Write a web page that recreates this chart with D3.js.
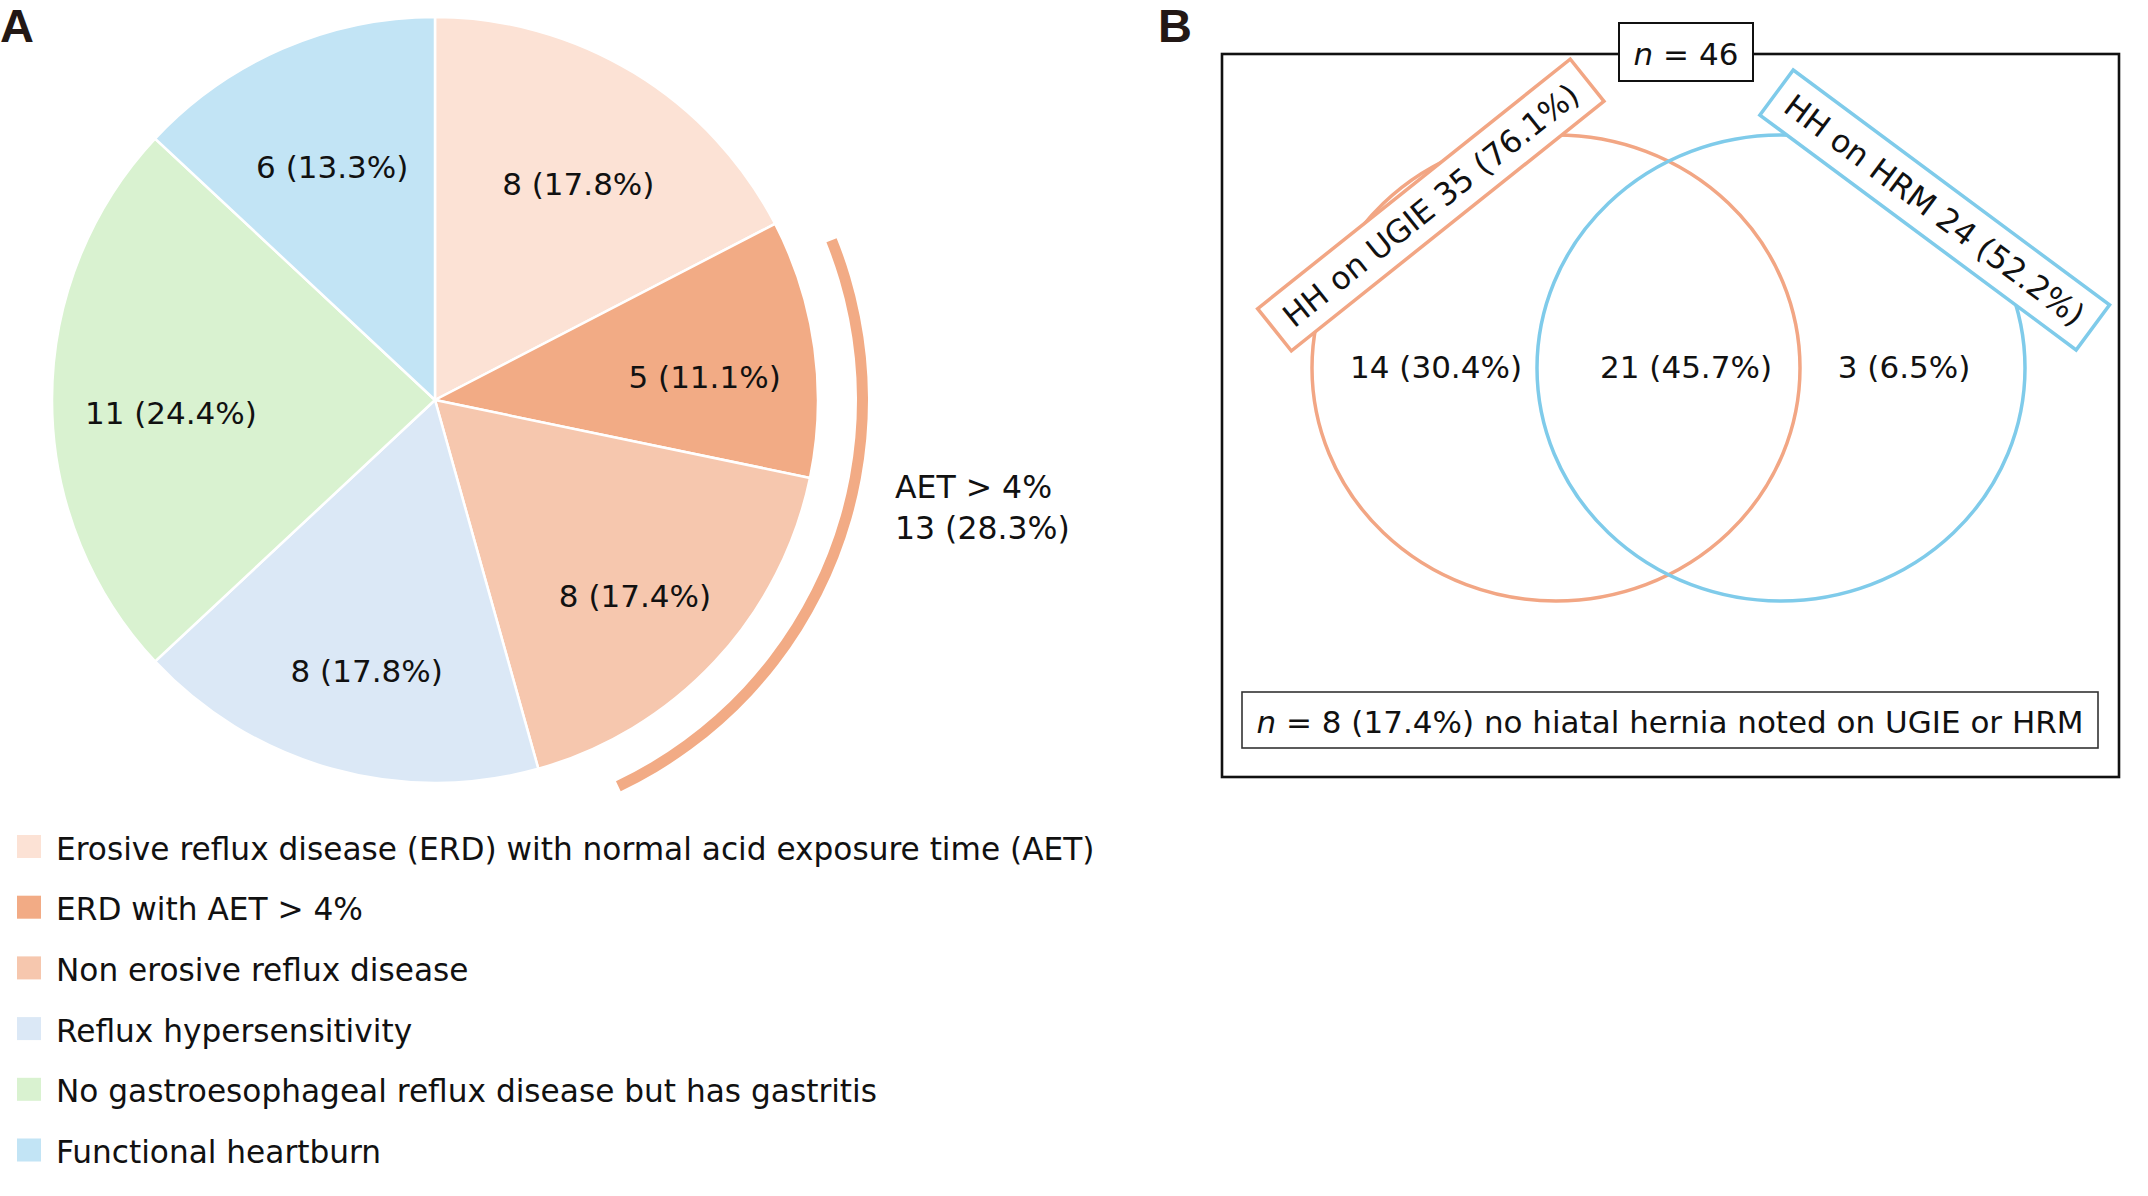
<!DOCTYPE html>
<html>
<head>
<meta charset="utf-8">
<style>
  body { margin: 0; background: #fff; }
  text { font-family: "DejaVu Sans", Verdana, sans-serif; fill: #111; }
  .panel { font-family: "Liberation Sans", Arial, sans-serif; font-weight: bold; fill: #231815; }
</style>
</head>
<body>
<svg id="chart" width="2148" height="1196"></svg>
<script src="https://cdn.jsdelivr.net/npm/d3@7"></script>
<script>
// Panel A data
const pieCategories = [
  "Erosive reflux disease (ERD) with normal acid exposure time (AET)",
  "ERD with AET > 4%",
  "Non erosive reflux disease",
  "Reflux hypersensitivity",
  "No gastroesophageal reflux disease but has gastritis",
  "Functional heartburn"
];
const pieCounts = [8, 5, 8, 8, 11, 6];
const pieLabels = ["8 (17.8%)", "5 (11.1%)", "8 (17.4%)", "8 (17.8%)", "11 (24.4%)", "6 (13.3%)"];
const pieColors = ["#fce2d5", "#f2ab85", "#f6c7ae", "#dbe8f6", "#d9f2d0", "#c2e4f5"];
const aetLines = ["AET > 4%", "13 (28.3%)"];

// Panel B data
const vennSets = ["HH on UGIE 35 (76.1%)", "HH on HRM 24 (52.2%)"];
const vennColors = ["#f2a684", "#7fcbea"];
const vennRegionLabels = ["14 (30.4%)", "21 (45.7%)", "3 (6.5%)"];
const vennTotal = "46";
const vennNone = "8 (17.4%) no hiatal hernia noted on UGIE or HRM";

const svg = d3.select("#chart");

// ---------- panel A: pie ----------
const cx = 435, cy = 400, R = 383;
const gA = svg.append("g").attr("transform", `translate(${cx},${cy})`);

const pie = d3.pie().sort(null).value(d => d);
const arcs = pie(pieCounts);
const arc = d3.arc().innerRadius(0).outerRadius(R);
const labelArc = d3.arc().innerRadius(R * 0.7).outerRadius(R * 0.7);

gA.selectAll("path.slice")
  .data(arcs)
  .enter()
  .append("path")
    .attr("class", "slice")
    .attr("d", arc)
    .attr("fill", (d, i) => pieColors[i])
    .attr("stroke", "#fff")
    .attr("stroke-width", 2.5);

// labels sit a little below the centroid, as in the original
gA.selectAll("text.lbl")
  .data(arcs)
  .enter()
  .append("text")
    .attr("class", "lbl")
    .attr("transform", d => {
      const c = labelArc.centroid(d);
      return `translate(${c[0] + 4},${c[1] + 13})`;
    })
    .attr("text-anchor", "middle")
    .attr("dy", "0.36em")
    .style("font-size", "31px")
    .text((d, i) => pieLabels[i]);

// bracket over the AET > 4% slices (2nd and 3rd)
const bracket = d3.arc()
  .innerRadius(422).outerRadius(433)
  .startAngle(arcs[1].startAngle + 0.095)
  .endAngle(arcs[2].endAngle - 0.17);
gA.append("path").attr("d", bracket()).attr("fill", pieColors[1]);

svg.append("g").selectAll("text")
  .data(aetLines)
  .enter()
  .append("text")
    .attr("x", 895)
    .attr("y", (d, i) => 498 + i * 41)
    .style("font-size", "31.5px")
    .text(d => d);

// legend
const legend = svg.append("g").selectAll("g")
  .data(pieCategories)
  .enter()
  .append("g")
    .attr("transform", (d, i) => `translate(0,${846.5 + i * 60.7})`);
legend.append("rect")
  .attr("x", 17).attr("y", -11.5)
  .attr("width", 24).attr("height", 23)
  .attr("fill", (d, i) => pieColors[i]);
legend.append("text")
  .attr("x", 56).attr("y", 13)
  .style("font-size", "31.2px")
  .text(d => d);

svg.append("text").attr("class", "panel").attr("x", 0).attr("y", 42)
  .style("font-size", "47px").text("A");
svg.append("text").attr("class", "panel").attr("x", 1158).attr("y", 42)
  .style("font-size", "47px").text("B");

// ---------- panel B: venn ----------
const gB = svg.append("g");

gB.append("rect")
  .attr("x", 1222).attr("y", 54)
  .attr("width", 897).attr("height", 723)
  .attr("fill", "none").attr("stroke", "#111").attr("stroke-width", 2.6);

const circles = [
  { cx: 1556, cy: 368 },
  { cx: 1781, cy: 368 }
];
gB.selectAll("ellipse")
  .data(circles)
  .enter()
  .append("ellipse")
    .attr("cx", d => d.cx).attr("cy", d => d.cy)
    .attr("rx", 244).attr("ry", 233)
    .attr("fill", "none")
    .attr("stroke", (d, i) => vennColors[i])
    .attr("stroke-width", 3.5);

const regionX = [1436, 1686, 1904];
gB.selectAll("text.region")
  .data(vennRegionLabels)
  .enter()
  .append("text")
    .attr("class", "region")
    .attr("x", (d, i) => regionX[i]).attr("y", 378)
    .attr("text-anchor", "middle")
    .style("font-size", "31px")
    .text(d => d);

// rotated set labels
const setBoxes = [
  { x: 1430.8, y: 205, w: 400, h: 54, rot: -38.6 },
  { x: 1934.7, y: 210, w: 394, h: 56, rot: 36.6 }
];
const sb = gB.selectAll("g.setbox")
  .data(setBoxes)
  .enter()
  .append("g")
    .attr("class", "setbox")
    .attr("transform", d => `translate(${d.x},${d.y}) rotate(${d.rot})`);
sb.append("rect")
  .attr("x", d => -d.w / 2).attr("y", d => -d.h / 2)
  .attr("width", d => d.w).attr("height", d => d.h)
  .attr("fill", "#fff")
  .attr("stroke", (d, i) => vennColors[i])
  .attr("stroke-width", 3.5);
sb.append("text")
  .attr("text-anchor", "middle")
  .attr("dy", "0.36em")
  .style("font-size", "31.5px")
  .text((d, i) => vennSets[i]);

// n = 46 box
gB.append("rect")
  .attr("x", 1619).attr("y", 23).attr("width", 134).attr("height", 58)
  .attr("fill", "#fff").attr("stroke", "#111").attr("stroke-width", 2);
const tTot = gB.append("text")
  .attr("x", 1686).attr("y", 65)
  .attr("text-anchor", "middle")
  .style("font-size", "31px");
tTot.append("tspan").style("font-style", "italic").text("n");
tTot.append("tspan").text(" = " + vennTotal);

// none box
gB.append("rect")
  .attr("x", 1242).attr("y", 692).attr("width", 856).attr("height", 56)
  .attr("fill", "#fff").attr("stroke", "#333").attr("stroke-width", 1.6);
const tNone = gB.append("text")
  .attr("x", 1670).attr("y", 733)
  .attr("text-anchor", "middle")
  .style("font-size", "31px");
tNone.append("tspan").style("font-style", "italic").text("n");
tNone.append("tspan").text(" = " + vennNone);
</script>
</body>
</html>
